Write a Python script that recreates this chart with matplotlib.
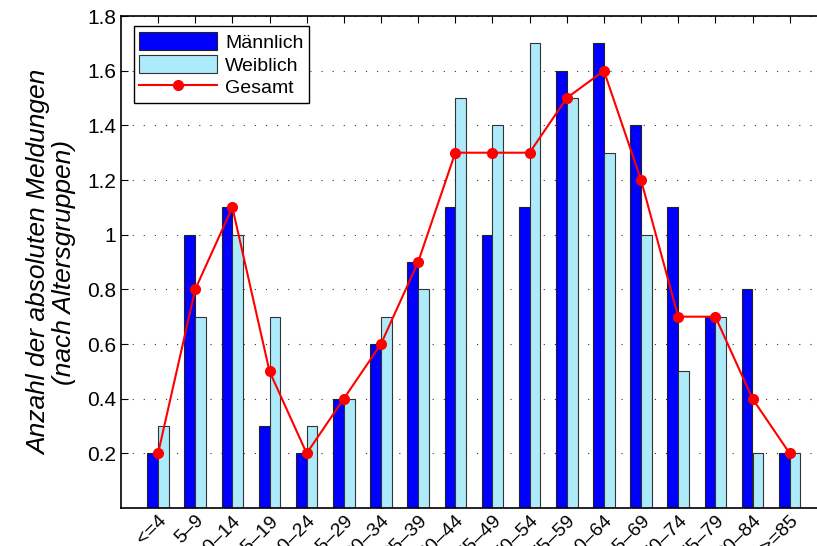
import numpy as np
import matplotlib
matplotlib.use('Agg')
import matplotlib.pyplot as plt
import matplotlib.transforms as mtransforms

plt.rcParams['font.family'] = ['Liberation Sans', 'DejaVu Sans']

gruppen = ['<=4', '5\u20139', '10\u201314', '15\u201319', '20\u201324', '25\u201329',
           '30\u201334', '35\u201339', '40\u201344', '45\u201349', '50\u201354', '55\u201359',
           '60\u201364', '65\u201369', '70\u201374', '75\u201379', '80\u201384', '>=85']
maennlich = [0.2, 1.0, 1.1, 0.3, 0.2, 0.4, 0.6, 0.9, 1.1, 1.0, 1.1, 1.6, 1.7, 1.4, 1.1, 0.7, 0.8, 0.2]
weiblich = [0.3, 0.7, 1.0, 0.7, 0.3, 0.4, 0.7, 0.8, 1.5, 1.4, 1.7, 1.5, 1.3, 1.0, 0.5, 0.7, 0.2, 0.2]
gesamt = [0.2, 0.8, 1.1, 0.5, 0.2, 0.4, 0.6, 0.9, 1.3, 1.3, 1.3, 1.5, 1.6, 1.2, 0.7, 0.7, 0.4, 0.2]
yticks = [0.2, 0.4, 0.6, 0.8, 1.0, 1.2, 1.4, 1.6, 1.8]

x = np.arange(1, len(gruppen) + 1)
w = 0.29

fig = plt.figure(figsize=(8.17, 5.46), dpi=100)
ax = fig.add_axes([0.148, 0.0696, 0.864, 0.901])

b1 = ax.bar(x - w / 2, maennlich, w, color='#0000FF', edgecolor='#222222', linewidth=0.8,
            label='M\u00e4nnlich', zorder=2)
b2 = ax.bar(x + w / 2, weiblich, w, color='#ADEBFA', edgecolor='#333333', linewidth=0.8,
            label='Weiblich', zorder=2)
l1, = ax.plot(x, gesamt, color='#FF0000', linewidth=1.5, marker='o', markersize=7,
              label='Gesamt', zorder=3)

ax.set_xlim(0, len(gruppen) + 1)
ax.set_ylim(0, 1.8)
ax.set_xticks(x)
ax.set_xticklabels(gruppen, rotation=45, ha='right', va='top', rotation_mode='anchor',
                   fontsize=14)
# labels sit a bit right of the tick, like in matlab
off = mtransforms.ScaledTranslation(6 / 72, 0, fig.dpi_scale_trans)
for lab in ax.get_xticklabels():
    lab.set_transform(lab.get_transform() + off)
ax.set_yticks(yticks)
ax.set_yticklabels(['%g' % v for v in yticks], fontsize=15)
ax.tick_params(direction='in', top=True, right=False, length=5, width=0.8)
ax.tick_params(axis='x', pad=3)
ax.spines['right'].set_visible(False)
for s in ['left', 'top', 'bottom']:
    ax.spines[s].set_linewidth(1.2)

ax.yaxis.grid(True, linestyle=(0, (1, 9)), color='#333333', linewidth=0.8, zorder=0)
ax.set_axisbelow(True)

ax.set_ylabel('Anzahl der absoluten Meldungen\n(nach Altersgruppen)', fontsize=19,
              style='italic', labelpad=8, linespacing=1.05)

leg = ax.legend([b1, b2, l1], ['M\u00e4nnlich', 'Weiblich', 'Gesamt'],
                loc='upper left', fontsize=14, fancybox=False, framealpha=1,
                edgecolor='black', borderpad=0.3, handlelength=4.0, handleheight=1.1,
                labelspacing=0.15, handletextpad=0.4, borderaxespad=0,
                bbox_to_anchor=(0.018, 0.98))
leg.get_frame().set_linewidth(1.0)

fig.savefig('out.png', dpi=100)
